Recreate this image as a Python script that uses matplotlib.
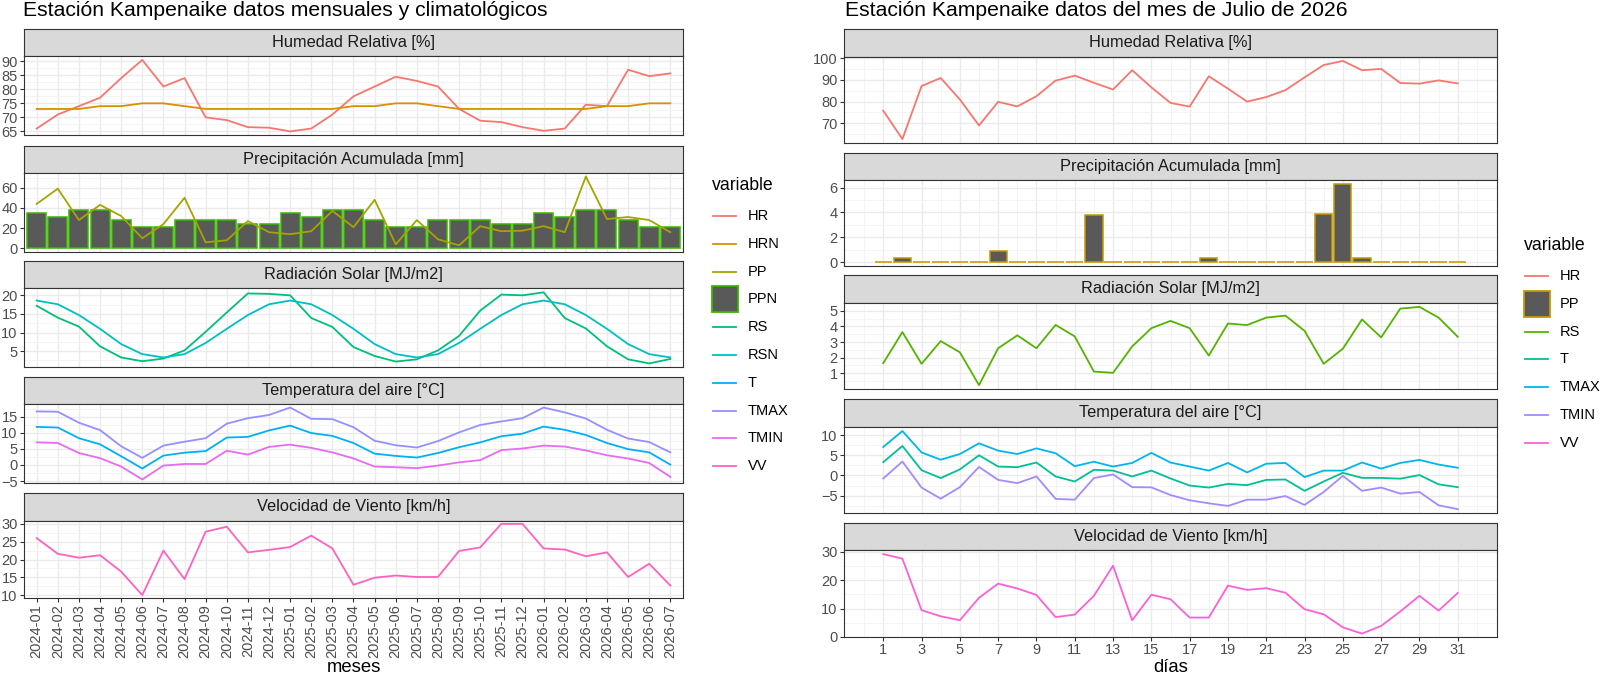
import numpy as np
import matplotlib.pyplot as plt
from matplotlib.patches import Rectangle
from matplotlib.lines import Line2D

plt.rcParams['font.family'] = ['Liberation Sans', 'DejaVu Sans']

# ---- datos mensuales (2024-01 .. 2026-07) ----
meses = ['2024-01', '2024-02', '2024-03', '2024-04', '2024-05', '2024-06',
         '2024-07', '2024-08', '2024-09', '2024-10', '2024-11', '2024-12',
         '2025-01', '2025-02', '2025-03', '2025-04', '2025-05', '2025-06',
         '2025-07', '2025-08', '2025-09', '2025-10', '2025-11', '2025-12',
         '2026-01', '2026-02', '2026-03', '2026-04', '2026-05', '2026-06',
         '2026-07']
hr_mes = [66, 71, 74, 77, 84, 90.5, 81, 84, 70, 69, 66.5, 66.3,
          65, 66, 71, 77.5, 81, 84.5, 83, 81, 73, 68.8, 68.3, 66.5,
          65.2, 66, 74.5, 74, 87, 84.7, 85.7]
hrn_mes = [73, 73, 73, 74, 74, 75, 75, 74, 73, 73, 73, 73,
           73, 73, 73, 74, 74, 75, 75, 74, 73, 73, 73, 73,
           73, 73, 73, 74, 74, 75, 75]
pp_mes = [44, 59, 28, 43, 32, 10, 24, 50, 6, 8, 27, 16,
          14, 17, 37, 21, 48, 4, 28, 9, 3, 22, 17, 17.5,
          22, 16, 71, 29, 31, 28, 16]
ppn_mes = [35, 31, 38, 38, 28, 21, 21, 28, 28, 28, 24.5, 24.5,
           35, 31, 38, 38, 28, 21, 21, 28, 28, 28, 24.5, 24.5,
           35, 31, 38, 38, 28, 21, 21]
rs_mes = [17.2, 14.0, 11.6, 6.3, 3.3, 2.3, 3.0, 5.2, 10.2, 15.4, 20.5, 20.4,
          20.0, 13.9, 11.5, 6.1, 3.7, 2.2, 2.8, 5.2, 9.1, 15.9, 20.2, 20.0,
          20.8, 13.9, 11.1, 6.3, 2.8, 1.7, 2.9]
rsn_mes = [18.6, 17.6, 14.7, 11.0, 6.9, 4.2, 3.3, 4.2, 7.2, 11.0, 14.7, 17.6,
           18.6, 17.6, 14.7, 11.0, 6.9, 4.2, 3.3, 4.2, 7.2, 11.0, 14.7, 17.6,
           18.6, 17.6, 14.7, 11.0, 6.9, 4.2, 3.3]
t_mes = [11.8, 11.6, 8.3, 6.4, 2.7, -1.1, 2.9, 3.8, 4.3, 8.5, 8.7, 10.7,
         12.2, 9.9, 9.0, 6.8, 3.5, 2.8, 2.3, 3.7, 5.5, 7.0, 8.9, 9.7,
         11.9, 10.9, 9.3, 6.8, 4.9, 3.9, 0.1]
tmax_mes = [16.6, 16.5, 13.1, 10.8, 5.8, 2.2, 6.0, 7.2, 8.3, 12.8, 14.5, 15.5,
            17.8, 14.3, 14.2, 11.7, 7.5, 6.1, 5.4, 7.4, 10.1, 12.4, 13.5, 14.5,
            17.8, 16.3, 14.4, 10.9, 8.2, 7.1, 3.9]
tmin_mes = [7.0, 6.8, 3.7, 2.1, -0.5, -4.5, -0.2, 0.3, 0.3, 4.4, 3.2, 5.6,
            6.3, 5.3, 3.9, 2.0, -0.5, -0.7, -1.0, -0.2, 0.8, 1.5, 4.6, 5.1,
            6.0, 5.7, 4.5, 3.0, 2.0, 0.6, -3.7]
vv_mes = [26.0, 21.6, 20.5, 21.2, 16.6, 10.0, 22.5, 14.5, 27.8, 29.2, 22.0, 22.7,
          23.5, 26.7, 23.1, 12.9, 14.9, 15.5, 15.1, 15.1, 22.4, 23.4, 30.0, 30.0,
          23.1, 22.8, 20.9, 22.0, 15.1, 18.8, 12.7]

# ---- datos diarios julio 2026 ----
dias = list(range(1, 32))
hr_dia = [75.8, 62.7, 87.2, 90.9, 81, 69, 79.9, 77.8, 82.5, 89.7, 92, 88.7,
          85.6, 94.5, 86.6, 79.4, 77.7, 91.7, 86, 80, 82.1, 85.3, 91.2, 96.9,
          98.8, 94.5, 95.1, 88.6, 88.3, 89.8, 88.4]
pp_dia = [0, 0.3, 0, 0, 0, 0, 0.93, 0, 0, 0, 0, 3.8,
          0, 0, 0, 0, 0, 0.37, 0, 0, 0, 0, 0, 3.9,
          6.3, 0.37, 0, 0, 0, 0, 0]
rs_dia = [1.64, 3.64, 1.6, 3.06, 2.34, 0.23, 2.6, 3.43, 2.6, 4.1, 3.36, 1.1,
          1.02, 2.72, 3.89, 4.36, 3.89, 2.13, 4.19, 4.09, 4.57, 4.7, 3.72, 1.6,
          2.57, 4.45, 3.3, 5.15, 5.26, 4.57, 3.34]
t_dia = [3.3, 7.3, 1.3, -0.65, 1.5, 5.0, 2.2, 2.05, 3.2, -0.25, -1.5, 1.4,
         1.2, -0.25, 1.2, -0.75, -2.5, -3.0, -2.1, -2.4, -1.1, -1.0, -3.8, -1.5,
         0.65, -0.6, -0.6, -0.8, 0.1, -2.2, -2.9]
tmax_dia = [7.05, 11.0, 5.7, 3.9, 5.3, 7.95, 6.15, 5.3, 6.7, 5.5, 2.3, 3.4,
            2.2, 3.1, 5.6, 3.2, 2.2, 1.2, 3.1, 0.75, 2.9, 3.1, -0.4, 1.2,
            1.2, 3.2, 1.7, 3.1, 3.85, 2.7, 1.9]
tmin_dia = [-0.75, 3.45, -3.0, -5.75, -2.9, 2.1, -1.1, -1.9, -0.25, -5.8, -6.0, -0.65,
            0.25, -2.9, -2.95, -4.85, -6.15, -6.9, -7.55, -6.0, -6.0, -5.1, -7.3, -4.1,
            -0.1, -3.8, -3.0, -4.5, -4.1, -7.4, -8.35]
vv_dia = [29.2, 27.6, 9.45, 7.3, 5.9, 13.8, 18.8, 17.1, 14.8, 7.0, 7.9, 14.5,
          25.1, 5.9, 14.9, 13.3, 6.85, 6.85, 18.1, 16.6, 17.2, 15.6, 9.8, 8.0,
          3.4, 1.2, 3.9, 9.0, 14.5, 9.3, 15.5]

W, H = 1600, 676
fig = plt.figure(figsize=(16, 6.76), dpi=100)

TICK_FS = 10.5


def px_axes(x0, y0, x1, y1):
    return fig.add_axes([x0 / W, 1 - y1 / H, (x1 - x0) / W, (y1 - y0) / H])


def panel(x0, x1, fila, titulo, ylim, yticks):
    s0, s1, p1 = fila
    st = px_axes(x0, s0, x1, s1)
    st.set_facecolor('#D9D9D9')
    st.set_xticks([])
    st.set_yticks([])
    for sp in st.spines.values():
        sp.set_color('#333333')
        sp.set_linewidth(0.8)
    st.text(0.5, 0.5, titulo, ha='center', va='center', fontsize=11.8,
            color='#1A1A1A', transform=st.transAxes)
    ax = px_axes(x0, s1, x1, p1)
    ax.set_ylim(ylim)
    paso = yticks[1] - yticks[0]
    menores = [t + paso / 2 for t in [yticks[0] - paso] + list(yticks)]
    menores = [m for m in menores if ylim[0] <= m <= ylim[1]]
    ax.set_yticks(yticks)
    ax.set_yticks(menores, minor=True)
    ax.grid(which='major', color='#EBEBEB', lw=1.0)
    ax.grid(which='minor', color='#F2F2F2', lw=0.6)
    ax.set_axisbelow(True)
    for sp in ax.spines.values():
        sp.set_color('#333333')
        sp.set_linewidth(0.8)
    ax.tick_params(which='major', length=3, width=0.8, color='#333333',
                   labelsize=TICK_FS, labelcolor='#4D4D4D', pad=1.5)
    ax.tick_params(which='minor', length=0)
    return ax


LW = 1.3

# ================= izquierda: mensual =================
xl0, xl1 = 24, 683
filas_izq = [(29, 56, 135), (146, 173, 252), (261, 288, 367), (377, 404, 483), (493, 521, 598)]
xm = np.arange(len(meses))


def eje_mes(ax, abajo):
    ax.set_xlim(-0.6, len(meses) - 0.4)
    ax.set_xticks(xm)
    if abajo:
        ax.set_xticklabels(meses, rotation=90, fontsize=TICK_FS)
    else:
        ax.tick_params(axis='x', length=0, labelbottom=False)


ax = panel(xl0, xl1, filas_izq[0], 'Humedad Relativa [%]', (63.7, 91.9), [65, 70, 75, 80, 85, 90])
ax.plot(xm, hr_mes, color='#F8766D', lw=LW)
ax.plot(xm, hrn_mes, color='#D89000', lw=LW)
eje_mes(ax, False)

ax = panel(xl0, xl1, filas_izq[1], 'Precipitación Acumulada [mm]', (-3.55, 74.5), [0, 20, 40, 60])
ax.bar(xm, ppn_mes, width=0.9, color='#595959', edgecolor='#39B600', linewidth=1.1)
ax.plot(xm, pp_mes, color='#A3A500', lw=LW)
eje_mes(ax, False)

ax = panel(xl0, xl1, filas_izq[2], 'Radiación Solar [MJ/m2]', (0.74, 21.97), [5, 10, 15, 20])
ax.plot(xm, rs_mes, color='#00BF7D', lw=LW)
ax.plot(xm, rsn_mes, color='#00BFC4', lw=LW)
eje_mes(ax, False)

ax = panel(xl0, xl1, filas_izq[3], 'Temperatura del aire [°C]', (-5.6, 18.9), [-5, 0, 5, 10, 15])
ax.plot(xm, t_mes, color='#00B0F6', lw=LW)
ax.plot(xm, tmax_mes, color='#9590FF', lw=LW)
ax.plot(xm, tmin_mes, color='#E76BF3', lw=LW)
eje_mes(ax, False)

ax = panel(xl0, xl1, filas_izq[4], 'Velocidad de Viento [km/h]', (9.2, 30.8), [10, 15, 20, 25, 30])
ax.plot(xm, vv_mes, color='#FF62BC', lw=LW)
eje_mes(ax, True)

fig.text(23 / W, 1 - 10 / H, 'Estación Kampenaike datos mensuales y climatológicos',
         fontsize=15.2, va='center', ha='left')
fig.text((xl0 + xl1) / 2 / W, 1 - 667 / H, 'meses', fontsize=13.3, ha='center', va='center')

# ================= derecha: diario =================
xr0, xr1 = 844, 1497
filas_der = [(29, 57, 143), (153, 180, 266), (275, 303, 389), (399, 427, 513), (523, 550, 637)]


def eje_dia(ax, abajo):
    ax.set_xlim(-1.05, 33.05)
    ax.set_xticks(dias[::2])
    ax.set_xticks(np.arange(0, 33, 2), minor=True)
    if not abajo:
        ax.tick_params(axis='x', length=0, labelbottom=False)


ax = panel(xr0, xr1, filas_der[0], 'Humedad Relativa [%]', (60.9, 100.6), [70, 80, 90, 100])
ax.plot(dias, hr_dia, color='#F8766D', lw=LW)
eje_dia(ax, False)

ax = panel(xr0, xr1, filas_der[1], 'Precipitación Acumulada [mm]', (-0.315, 6.62), [0, 2, 4, 6])
ax.bar(dias, pp_dia, width=0.9, color='#595959', edgecolor='#C49A00', linewidth=1.1)
eje_dia(ax, False)

ax = panel(xr0, xr1, filas_der[2], 'Radiación Solar [MJ/m2]', (-0.02, 5.51), [1, 2, 3, 4, 5])
ax.plot(dias, rs_dia, color='#53B400', lw=LW)
eje_dia(ax, False)

ax = panel(xr0, xr1, filas_der[3], 'Temperatura del aire [°C]', (-9.3, 12.0), [-5, 0, 5, 10])
ax.plot(dias, t_dia, color='#00C094', lw=LW)
ax.plot(dias, tmax_dia, color='#00B6EB', lw=LW)
ax.plot(dias, tmin_dia, color='#A58AFF', lw=LW)
eje_dia(ax, False)

ax = panel(xr0, xr1, filas_der[4], 'Velocidad de Viento [km/h]', (0, 30.65), [0, 10, 20, 30])
ax.plot(dias, vv_dia, color='#FB61D7', lw=LW)
eje_dia(ax, True)

fig.text(845 / W, 1 - 10 / H, 'Estación Kampenaike datos del mes de Julio de 2026',
         fontsize=15.2, va='center', ha='left')
fig.text((xr0 + xr1) / 2 / W, 1 - 667 / H, 'días', fontsize=13.3, ha='center', va='center')


# ================= leyendas =================
def leyenda(x, y_titulo, y0, paso, items):
    fig.text(x / W, 1 - y_titulo / H, 'variable', fontsize=12.7, va='center', ha='left')
    for i, (nombre, color, caja) in enumerate(items):
        yc = y0 + i * paso
        if caja:
            fig.add_artist(Rectangle((x / W, 1 - (yc + 13) / H), 26 / W, 26 / H,
                                     facecolor='#595959', edgecolor=color, lw=1.3,
                                     transform=fig.transFigure))
        else:
            fig.add_artist(Line2D([(x + 1) / W, (x + 24) / W], [1 - yc / H] * 2,
                                  color=color, lw=LW, transform=fig.transFigure))
        fig.text((x + 36) / W, 1 - yc / H, nombre, fontsize=10.5, va='center', ha='left')


leyenda(712, 185, 216, 27.8, [
    ('HR', '#F8766D', False), ('HRN', '#D89000', False), ('PP', '#A3A500', False),
    ('PPN', '#39B600', True), ('RS', '#00BF7D', False), ('RSN', '#00BFC4', False),
    ('T', '#00B0F6', False), ('TMAX', '#9590FF', False), ('TMIN', '#E76BF3', False),
    ('VV', '#FF62BC', False)])

leyenda(1524, 245, 276, 27.8, [
    ('HR', '#F8766D', False), ('PP', '#C49A00', True), ('RS', '#53B400', False),
    ('T', '#00C094', False), ('TMAX', '#00B6EB', False), ('TMIN', '#A58AFF', False),
    ('VV', '#FB61D7', False)])

fig.savefig('out.png', dpi=100)
